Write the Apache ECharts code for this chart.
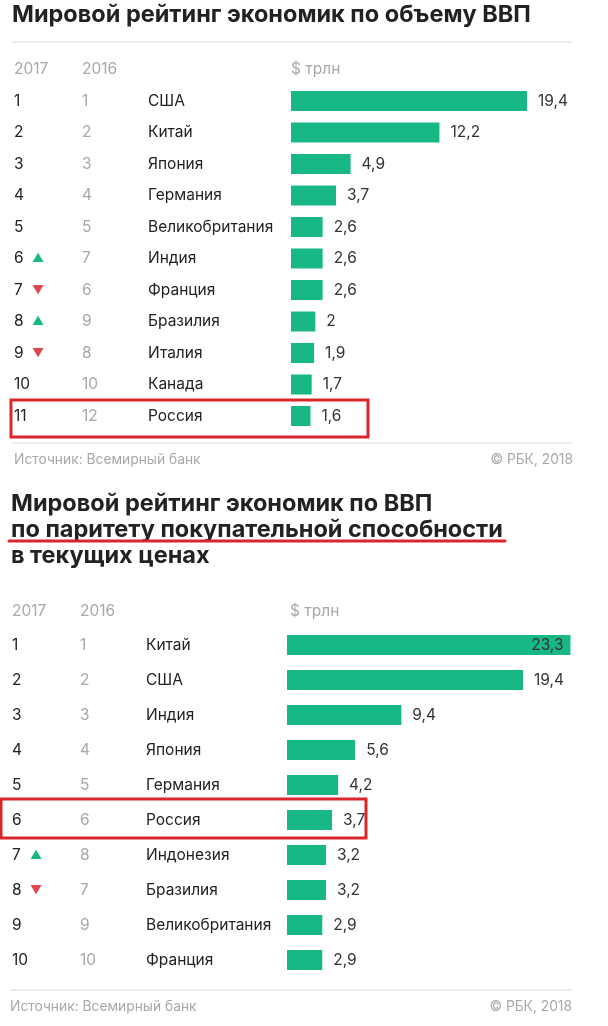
<!DOCTYPE html>
<html><head><meta charset="utf-8">
<script src="https://cdn.jsdelivr.net/npm/echarts@6/dist/echarts.min.js"></script>
<style>html,body{margin:0;padding:0;background:#fff}#c{width:608px;height:1026px}</style>
</head><body><div id="c"></div>
<script>
// --- Chart 1: nominal GDP
const rank2017A = ['1','2','3','4','5','6','7','8','9','10','11'];
const rank2016A = ['1','2','3','4','5','7','6','9','8','10','12'];
const trendA = ['','','','','','up','down','up','down','',''];
const countriesA = ['США','Китай','Япония','Германия','Великобритания','Индия','Франция','Бразилия','Италия','Канада','Россия'];
const valuesA = [19.4,12.2,4.9,3.7,2.6,2.6,2.6,2,1.9,1.7,1.6];
// --- Chart 2: GDP PPP
const rank2017B = ['1','2','3','4','5','6','7','8','9','10'];
const rank2016B = ['1','2','3','4','5','6','8','7','9','10'];
const trendB = ['','','','','','','up','down','',''];
const countriesB = ['Китай','США','Индия','Япония','Германия','Россия','Индонезия','Бразилия','Великобритания','Франция'];
const valuesB = [23.3,19.4,9.4,5.6,4.2,3.7,3.2,3.2,2.9,2.9];

const FONT = 'Inter, Roboto, "Noto Sans", sans-serif';
const GREEN = '#18b886';
const RED = '#d9252d';
const DARK = '#222';
const GRAY = '#a8a8a8';

function labelFmt(r17, r16, tr){
  return function(val, idx){
    const t = tr[idx] === 'up' ? '{up|▲}' : (tr[idx] === 'down' ? '{dn|▼}' : '{tn| }');
    return '{r|' + r17[idx] + '}' + t + '{p|' + r16[idx] + '}{c|' + val + '}';
  };
}
function rich(){
  const base = {fontFamily: FONT, fontSize: 15.5};
  return {
    r: Object.assign({}, base, {color: DARK, width: 18}),
    up: Object.assign({}, base, {color: GREEN, fontSize: 12, width: 50}),
    dn: Object.assign({}, base, {color: '#e0474c', fontSize: 12, width: 50}),
    tn: Object.assign({}, base, {width: 50}),
    p: Object.assign({}, base, {color: GRAY, width: 66}),
    c: Object.assign({}, base, {color: DARK})
  };
}
const valFmt = p => String(p.value).replace('.', ',');

const chart = echarts.init(document.getElementById('c'), null, {renderer: 'canvas'});
const option = {
  backgroundColor: '#fff',
  animation: false,
  grid: [
    {left: 291, top: 85.25, width: 292, height: 346.5},
    {left: 287, top: 627.5, width: 292, height: 350}
  ],
  xAxis: [
    {gridIndex: 0, type: 'value', min: 0, max: 24, show: false},
    {gridIndex: 1, type: 'value', min: 0, max: 24, show: false}
  ],
  yAxis: [
    {gridIndex: 0, type: 'category', inverse: true, data: countriesA,
     axisLine:{show:false}, axisTick:{show:false}, splitLine:{show:false},
     axisLabel:{align:'left', margin: 277, formatter: labelFmt(rank2017A, rank2016A, trendA), rich: rich()}},
    {gridIndex: 1, type: 'category', inverse: true, data: countriesB,
     axisLine:{show:false}, axisTick:{show:false}, splitLine:{show:false},
     axisLabel:{align:'left', margin: 275, formatter: labelFmt(rank2017B, rank2016B, trendB), rich: rich()}}
  ],
  series: [
    {type:'bar', xAxisIndex:0, yAxisIndex:0, data: valuesA, barWidth: 20,
     itemStyle:{color: GREEN},
     label:{show:true, position:'right', distance: 11, color:'#333', fontFamily: FONT, fontSize: 15.5, formatter: valFmt}},
    {type:'bar', xAxisIndex:1, yAxisIndex:1, barWidth: 20,
     data: valuesB.map((v,i)=> i===0 ? {value:v, label:{position:'insideRight', distance: 7}} : v),
     itemStyle:{color: GREEN},
     label:{show:true, position:'right', distance: 11, color:'#333', fontFamily: FONT, fontSize: 15.5, formatter: valFmt}}
  ],
  graphic: [
    {type:'text', left: 12, top: 3, style:{text:'Мировой рейтинг экономик по объему ВВП', font:'bold 23.5px ' + FONT, fill: DARK}},
    {type:'line', shape:{x1:12, y1:42, x2:572, y2:42}, style:{stroke:'#e6e6e6', lineWidth:1.5}},
    {type:'text', left: 14, top: 61, style:{text:'2017', font:'15.5px ' + FONT, fill: GRAY}},
    {type:'text', left: 82, top: 61, style:{text:'2016', font:'15.5px ' + FONT, fill: GRAY}},
    {type:'text', left: 291, top: 61, style:{text:'$ трлн', font:'15.5px ' + FONT, fill: GRAY}},
    {type:'rect', shape:{x:11, y:400, width:357, height:37}, style:{fill:'none', stroke: RED, lineWidth:3}},
    {type:'line', shape:{x1:12, y1:443, x2:572, y2:443}, style:{stroke:'#e6e6e6', lineWidth:1.5}},
    {type:'text', left: 14, top: 453, style:{text:'Источник: Всемирный банк', font:'13.8px ' + FONT, fill: GRAY}},
    {type:'text', right: 35, top: 453, style:{text:'© РБК, 2018', font:'13.8px ' + FONT, fill: GRAY}},

    {type:'text', left: 11, top: 492, style:{text:'Мировой рейтинг экономик по ВВП', font:'bold 23.5px ' + FONT, fill: DARK}},
    {type:'text', left: 11, top: 518, style:{text:'по паритету покупательной способности', font:'bold 23.5px ' + FONT, fill: DARK}},
    {type:'text', left: 11, top: 544, style:{text:'в текущих ценах', font:'bold 23.5px ' + FONT, fill: DARK}},
    {type:'line', shape:{x1:9, y1:541, x2:505, y2:541}, style:{stroke: RED, lineWidth:3, lineCap:'round'}},
    {type:'text', left: 12, top: 603, style:{text:'2017', font:'15.5px ' + FONT, fill: GRAY}},
    {type:'text', left: 80, top: 603, style:{text:'2016', font:'15.5px ' + FONT, fill: GRAY}},
    {type:'text', left: 290, top: 603, style:{text:'$ трлн', font:'15.5px ' + FONT, fill: GRAY}},
    {type:'rect', shape:{x:1, y:799, width:365, height:39}, style:{fill:'none', stroke: RED, lineWidth:3}},
    {type:'line', shape:{x1:10, y1:990, x2:572, y2:990}, style:{stroke:'#e6e6e6', lineWidth:1.5}},
    {type:'text', left: 10, top: 1000, style:{text:'Источник: Всемирный банк', font:'13.8px ' + FONT, fill: GRAY}},
    {type:'text', right: 36, top: 1000, style:{text:'© РБК, 2018', font:'13.8px ' + FONT, fill: GRAY}}
  ]
};
chart.setOption(option);
</script></body></html>
